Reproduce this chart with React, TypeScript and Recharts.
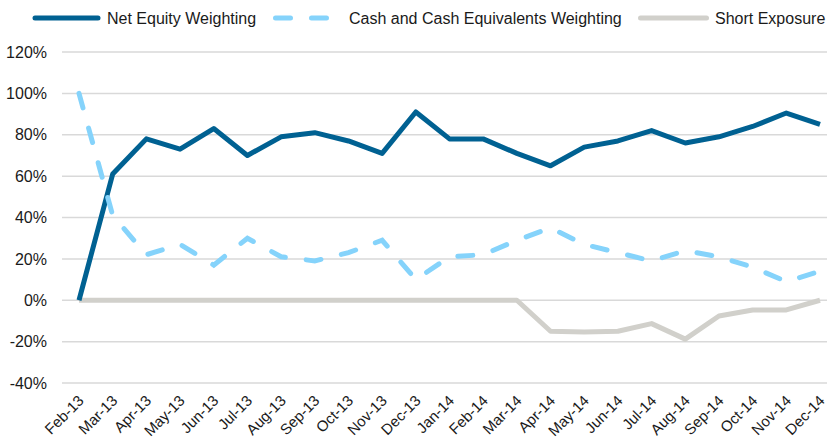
import React from 'react';
import { LineChart, Line, XAxis, YAxis, CartesianGrid, Legend } from 'recharts';

const months = [
  'Feb-13', 'Mar-13', 'Apr-13', 'May-13', 'Jun-13', 'Jul-13', 'Aug-13', 'Sep-13',
  'Oct-13', 'Nov-13', 'Dec-13', 'Jan-14', 'Feb-14', 'Mar-14', 'Apr-14', 'May-14',
  'Jun-14', 'Jul-14', 'Aug-14', 'Sep-14', 'Oct-14', 'Nov-14', 'Dec-14',
];
const netEquity = [0, 61, 78, 73, 83, 70, 79, 81, 77, 71, 91, 78, 78, 71, 65, 74, 77, 82, 76, 79, 84, 90.5, 85];
const cashWeighting = [100, 41, 22, 27, 17, 30, 21, 19, 23, 29, 10, 21, 22, 29, 35, 27, 23, 19, 24, 21, 16, 9, 14];
const shortExposure = [0, 0, 0, 0, 0, 0, 0, 0, 0, 0, 0, 0, 0, 0, -15, -15.3, -15, -11.3, -18.8, -7.6, -4.7, -4.7, 0];
const yTicks = [-40, -20, 0, 20, 40, 60, 80, 100, 120];

const NAVY = '#006192';
const SKY = '#85d3fb';
const GREY = '#d1d0cb';
const FONT = '"Liberation Sans", Arial, sans-serif';

const data = months.map((m, i) => ({
  month: m,
  netEquity: netEquity[i],
  cash: cashWeighting[i],
  short: shortExposure[i],
}));

const MonthTick = (props: any) => {
  const { x, y, payload } = props;
  return (
    <g transform={`translate(${x + 2},${y + 13})`}>
      <text
        x={0}
        y={0}
        dy="0.35em"
        textAnchor="end"
        transform="rotate(-45)"
        fill="#1a1a1a"
        fontSize={15}
        fontFamily={FONT}
      >
        {payload.value}
      </text>
    </g>
  );
};

const TopLegend = () => (
  <svg width={827} height={30}>
    <g fontFamily={FONT} fontSize={16} fill="#1a1a1a">
      <line x1={35} y1={18} x2={98} y2={18} stroke={NAVY} strokeWidth={5} strokeLinecap="round" />
      <text x={107} y={24}>Net Equity Weighting</text>
      <line x1={275.5} y1={18} x2={328} y2={18} stroke={SKY} strokeWidth={5} strokeLinecap="round" strokeDasharray="15 21" />
      <text x={349} y={24}>Cash and Cash Equivalents Weighting</text>
      <line x1={640.5} y1={18} x2={706.5} y2={18} stroke={GREY} strokeWidth={5} strokeLinecap="round" />
      <text x={715} y={24}>Short Exposure</text>
    </g>
  </svg>
);

export default function App() {
  return (
    <div style={{ width: 827, height: 438, background: '#fff' }}>
      <style>{`body{margin:0}`}</style>
      <LineChart width={827} height={438} data={data} margin={{ top: 22, right: 0, bottom: 0, left: 0 }}>
        <CartesianGrid vertical={false} stroke="#d9d9d9" strokeWidth={1.5} />
        <Legend
          verticalAlign="top"
          content={() => <TopLegend />}
          wrapperStyle={{ top: 0, left: 0, width: 827, height: 30 }}
        />
        <XAxis
          dataKey="month"
          interval={0}
          height={55}
          axisLine={false}
          tickLine={false}
          tickSize={0}
          padding={{ left: 17, right: 7 }}
          tick={<MonthTick />}
        />
        <YAxis
          domain={[-40, 120]}
          ticks={yTicks}
          width={62}
          axisLine={false}
          tickLine={false}
          tickSize={0}
          tickMargin={15}
          tickFormatter={(v: number) => `${v}%`}
          tick={{ fill: '#1a1a1a', fontSize: 16, fontFamily: FONT }}
        />
        <Line
          dataKey="short"
          stroke={GREY}
          strokeWidth={5}
          dot={false}
          strokeLinejoin="round"
          isAnimationActive={false}
        />
        <Line
          dataKey="netEquity"
          stroke={NAVY}
          strokeWidth={5}
          dot={false}
          strokeLinejoin="round"
          isAnimationActive={false}
        />
        <Line
          dataKey="cash"
          stroke={SKY}
          strokeWidth={5}
          strokeDasharray="15 21"
          strokeLinecap="round"
          dot={false}
          isAnimationActive={false}
        />
      </LineChart>
    </div>
  );
}
